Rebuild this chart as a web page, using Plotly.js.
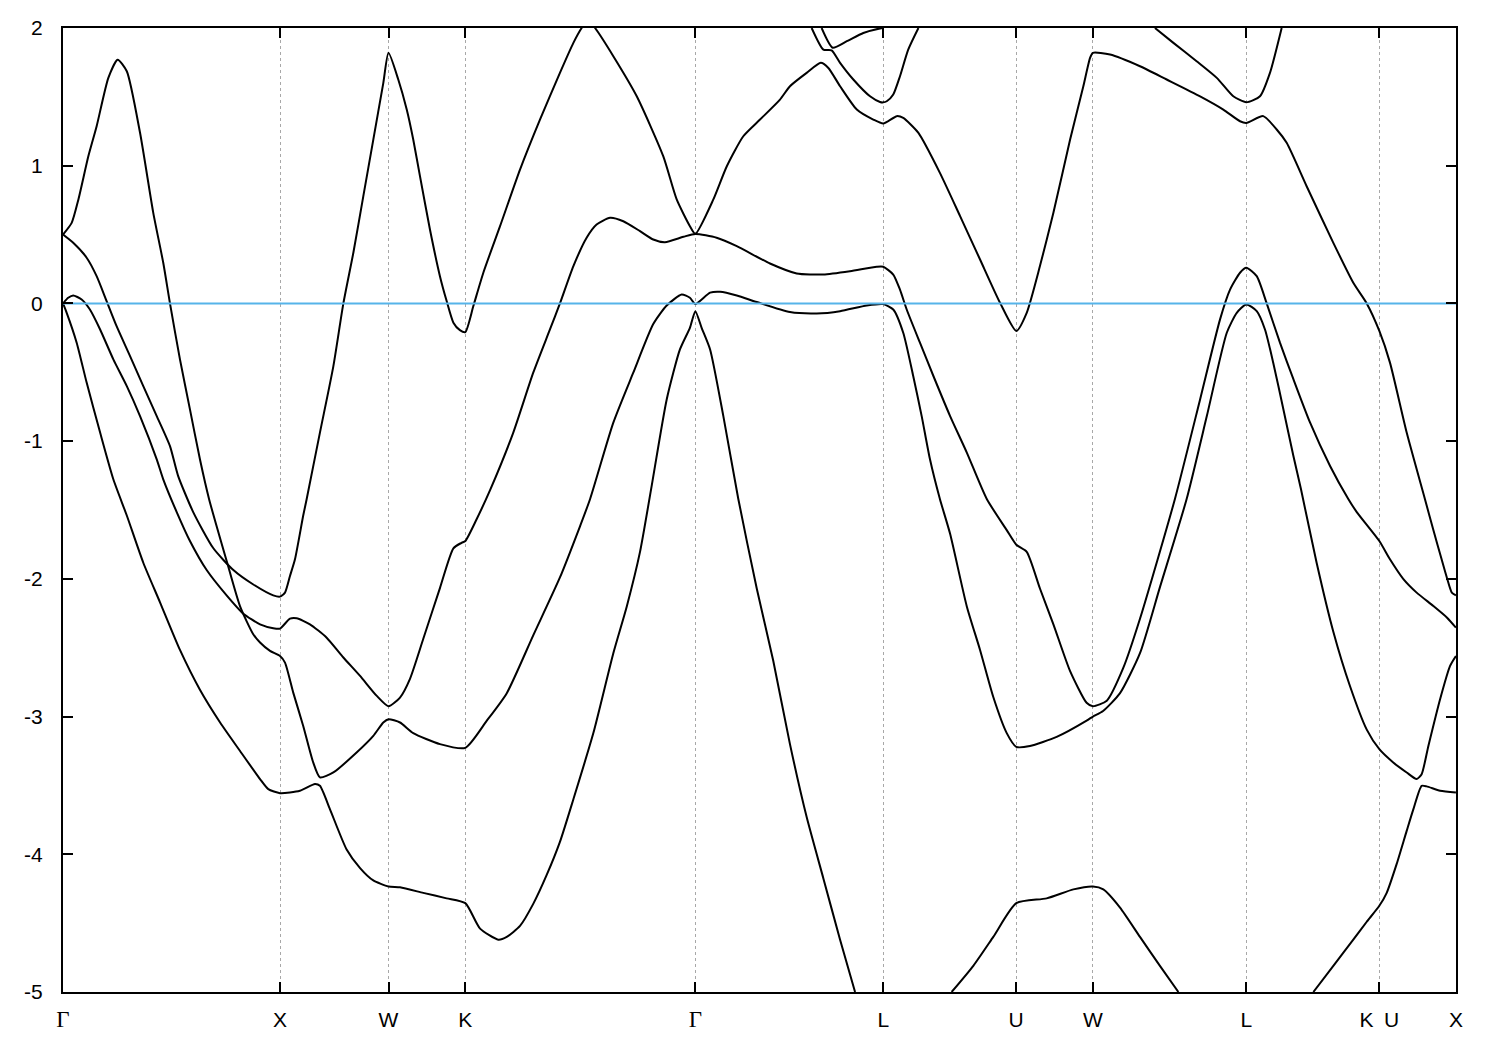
<!DOCTYPE html>
<html>
<head>
<meta charset="utf-8">
<script src="https://cdn.plot.ly/plotly-3.0.1.min.js"></script>
<style>html,body{margin:0;padding:0;background:#fff;}#chart{width:1500px;height:1050px;}</style>
</head>
<body>
<div id="chart"></div>
<script>
// High-symmetry points along the k-path
const kTicks = [0, 1, 1.5, 1.8536, 2.9142, 3.7802, 4.3926, 4.7462, 5.4533, 6.0657, 6.4193];
const kLabels = ['<span style="font-family:Liberation Serif;font-size:23px">Γ</span>', 'X', 'W', 'K',
  '<span style="font-family:Liberation Serif;font-size:23px">Γ</span>', 'L', 'U', 'W', 'L', 'K\u2002U', 'X'];
// Energy axis ticks
const eTicks = [-5, -4, -3, -2, -1, 0, 1, 2];
const eLabels = ['-5', '-4', '-3', '-2', '-1', '0', '1', '2'];

// Band A
const kA = [0, 0.040, 0.071, 0.117, 0.155, 0.209, 0.252, 0.294, 0.355, 0.416,
  0.462, 0.493, 0.539, 0.585, 0.631, 0.673, 0.756, 0.816, 0.876, 0.908,
  0.954, 1.0, 1.023, 1.061, 1.107, 1.153, 1.184, 1.246, 1.353, 1.430,
  1.476, 1.5, 1.553, 1.614, 1.737, 1.854, 1.953, 2.045, 2.167, 2.290,
  2.382, 2.429, 2.536, 2.628, 2.720, 2.782, 2.851, 2.889, 2.914, 2.982,
  3.028, 3.105, 3.197, 3.350, 3.473, 3.581, 3.704, 3.780, 3.826, 3.872,
  3.918, 3.957, 3.995, 4.041, 4.088, 4.165, 4.226, 4.287, 4.349, 4.393,
  4.456, 4.579, 4.717, 4.746, 4.793, 4.871, 4.963, 5.055, 5.178, 5.271,
  5.363, 5.409, 5.453, 5.501, 5.539, 5.577, 5.624, 5.670, 5.705, 5.777,
  5.854, 5.931, 6.008, 6.066, 6.130, 6.192, 6.238, 6.261, 6.292, 6.346,
  6.392, 6.419];
const eA = [0.50, 0.585, 0.755, 1.07, 1.287, 1.638, 1.77, 1.686, 1.239, 0.658,
  0.295, 0.0, -0.406, -0.769, -1.132, -1.42, -1.88, -2.2, -2.40, -2.462,
  -2.523, -2.56, -2.608, -2.826, -3.068, -3.333, -3.442, -3.406, -3.261, -3.14,
  -3.043, -3.019, -3.043, -3.12, -3.2, -3.227, -3.03, -2.83, -2.41, -1.99,
  -1.62, -1.42, -0.866, -0.503, -0.15, -0.015, 0.065, 0.041, -0.005, 0.078,
  0.085, 0.058, 0.01, -0.063, -0.073, -0.056, -0.015, -0.005, -0.044, -0.213,
  -0.527, -0.818, -1.13, -1.42, -1.673, -2.2, -2.516, -2.858, -3.12, -3.22,
  -3.214, -3.148, -3.03, -3.0, -2.96, -2.83, -2.54, -2.06, -1.42, -0.818,
  -0.213, -0.068, -0.007, -0.056, -0.189, -0.43, -0.77, -1.108, -1.35, -1.883,
  -2.384, -2.78, -3.095, -3.237, -3.333, -3.406, -3.454, -3.418, -3.213, -2.874,
  -2.632, -2.56];

// Band B
const kB = [0, 0.047, 0.109, 0.155, 0.201, 0.247, 0.309, 0.370, 0.432, 0.493,
  0.530, 0.600, 0.693, 0.785, 0.877, 0.969, 1.0, 1.023, 1.046, 1.069,
  1.107, 1.123, 1.184, 1.246, 1.292, 1.338, 1.384, 1.430, 1.476, 1.5,
  1.545, 1.584, 1.614, 1.645, 1.691, 1.737, 1.768, 1.799, 1.829, 1.854,
  1.891, 1.937, 2.014, 2.106, 2.198, 2.290, 2.352, 2.390, 2.419, 2.452,
  2.536, 2.644, 2.766, 2.828, 2.889, 2.914, 2.997, 3.059, 3.135, 3.212,
  3.304, 3.350, 3.427, 3.492, 3.527, 3.581, 3.658, 3.734, 3.780, 3.842,
  3.872, 3.942, 4.041, 4.134, 4.226, 4.318, 4.393, 4.441, 4.502, 4.564,
  4.641, 4.702, 4.733, 4.746, 4.825, 4.963, 5.086, 5.240, 5.347, 5.424,
  5.453, 5.531, 5.593, 5.639, 5.731, 5.854, 5.946, 6.008, 6.066, 6.115,
  6.192, 6.276, 6.315, 6.353, 6.377, 6.400, 6.419];
const eB = [0.5, 0.44, 0.332, 0.198, 0.017, -0.165, -0.382, -0.6, -0.818, -1.036,
  -1.25, -1.515, -1.778, -1.936, -2.041, -2.12, -2.129, -2.1, -1.979, -1.858,
  -1.54, -1.42, -0.938, -0.455, 0, 0.368, 0.779, 1.19, 1.6, 1.82,
  1.626, 1.408, 1.19, 0.924, 0.537, 0.198, 0.017, -0.14, -0.194, -0.208,
  -0.019, 0.223, 0.561, 0.972, 1.335, 1.674, 1.892, 2.0, 2.06, 2.0,
  1.795, 1.504, 1.069, 0.755, 0.561, 0.505, 0.755, 0.996, 1.214, 1.335,
  1.48, 1.577, 1.674, 1.747, 1.71, 1.577, 1.408, 1.335, 1.306, 1.36,
  1.347, 1.238, 0.948, 0.634, 0.319, 0.005, -0.2, -0.068, 0.271, 0.658,
  1.19, 1.577, 1.783, 1.82, 1.807, 1.722, 1.626, 1.504, 1.408, 1.323,
  1.311, 1.36, 1.263, 1.166, 0.851, 0.44, 0.15, 0, -0.2, -0.43,
  -0.938, -1.42, -1.646, -1.858, -1.99, -2.1, -2.12];

// Band C
const kC = [0, 0.024, 0.047, 0.086, 0.124, 0.171, 0.232, 0.294, 0.355, 0.432,
  0.462, 0.524, 0.585, 0.662, 0.754, 0.831, 0.908, 0.969, 1.0, 1.046,
  1.077, 1.138, 1.215, 1.292, 1.369, 1.446, 1.5, 1.553, 1.599, 1.660,
  1.737, 1.799, 1.837, 1.854, 1.906, 1.968, 2.075, 2.167, 2.244, 2.290,
  2.352, 2.413, 2.459, 2.521, 2.582, 2.659, 2.720, 2.774, 2.859, 2.914,
  3.012, 3.105, 3.258, 3.381, 3.504, 3.627, 3.750, 3.780, 3.826, 3.857,
  3.888, 3.949, 4.011, 4.088, 4.165, 4.257, 4.349, 4.393, 4.441, 4.502,
  4.564, 4.641, 4.717, 4.746, 4.810, 4.886, 4.963, 5.124, 5.240, 5.332,
  5.378, 5.424, 5.453, 5.501, 5.547, 5.608, 5.670, 5.747, 5.839, 5.923,
  5.962, 6.066, 6.115, 6.176, 6.238, 6.315, 6.377, 6.419];
const eC = [0, 0.041, 0.058, 0.029, -0.044, -0.189, -0.406, -0.6, -0.818, -1.132,
  -1.277, -1.515, -1.725, -1.936, -2.12, -2.253, -2.33, -2.358, -2.361, -2.289,
  -2.286, -2.33, -2.427, -2.571, -2.705, -2.85, -2.925, -2.862, -2.726, -2.437,
  -2.067, -1.778, -1.738, -1.725, -1.567, -1.356, -0.938, -0.503, -0.189, 0,
  0.271, 0.477, 0.573, 0.622, 0.597, 0.525, 0.464, 0.445, 0.484, 0.505,
  0.477, 0.416, 0.29, 0.218, 0.21, 0.234, 0.266, 0.266, 0.21, 0.1,
  -0.044, -0.285, -0.527, -0.818, -1.083, -1.42, -1.646, -1.752, -1.804, -2.07,
  -2.33, -2.67, -2.9, -2.925, -2.885, -2.647, -2.29, -1.42, -0.697, -0.116,
  0.10, 0.223, 0.259, 0.198, 0, -0.285, -0.55, -0.866, -1.18, -1.42,
  -1.515, -1.725, -1.858, -2.0, -2.1, -2.197, -2.28, -2.354];

// Band D (null = leaves the window below -5)
const kD = [0, 0.017, 0.063, 0.109, 0.171, 0.232, 0.294, 0.370, 0.447, 0.539,
  0.631, 0.724, 0.816, 0.908, 0.946, 1.0, 1.092, 1.161, 1.184, 1.230,
  1.307, 1.369, 1.430, 1.5, 1.553, 1.660, 1.768, 1.854, 1.922, 2.006,
  2.045, 2.106, 2.167, 2.229, 2.290, 2.352, 2.444, 2.536, 2.598, 2.659,
  2.710, 2.782, 2.843, 2.889, 2.914, 2.943, 2.982, 3.043, 3.112, 3.197,
  3.273, 3.350, 3.427, 3.504, 3.581, 3.650, null, 4.095, 4.195, 4.287,
  4.393, 4.533, 4.656, 4.746, 4.794, 4.871, 4.963, 5.055, 5.140, null,
  5.762, 5.854, 5.946, 6.008, 6.066, 6.100, 6.146, 6.192, 6.223, 6.261,
  6.284, 6.346, 6.419];
const eD = [0, -0.068, -0.285, -0.575, -0.938, -1.277, -1.54, -1.883, -2.17, -2.516,
  -2.805, -3.043, -3.25, -3.454, -3.527, -3.556, -3.539, -3.49, -3.503, -3.672,
  -3.965, -4.1, -4.19, -4.234, -4.24, -4.28, -4.32, -4.355, -4.54, -4.62,
  -4.6, -4.52, -4.36, -4.15, -3.91, -3.6, -3.12, -2.54, -2.2, -1.804,
  -1.35, -0.697, -0.334, -0.177, -0.056, -0.177, -0.334, -0.818, -1.42, -2.07,
  -2.595, -3.2, -3.73, -4.175, -4.62, -5.0, null, -5.0, -4.81, -4.6,
  -4.355, -4.32, -4.255, -4.234, -4.255, -4.387, -4.6, -4.81, -5.0, null,
  -5.0, -4.81, -4.62, -4.49, -4.374, -4.28, -4.07, -3.83, -3.672, -3.503,
  -3.507, -3.539, -3.551];

// Upper bands near L
const kE = [3.450, 3.504, 3.542, 3.581, 3.642, 3.719, 3.765, 3.780, 3.796, 3.826, 3.857, 3.895, 3.942];
const eE = [2.0, 1.843, 1.838, 1.747, 1.626, 1.504, 1.463, 1.460, 1.468, 1.517, 1.65, 1.843, 2.0];
const kF = [3.496, 3.547, 3.612, 3.688, 3.765, 3.780];
const eF = [2.0, 1.857, 1.904, 1.964, 1.997, 2.0];
const kG = [5.032, 5.117, 5.224, 5.317, 5.393, 5.453, 5.516, 5.562, 5.616];
const eG = [2.0, 1.892, 1.759, 1.638, 1.504, 1.461, 1.504, 1.674, 2.0];

// Fermi level
const kFermi = [0, 6.4193];
const eFermi = [0, 0];

const bands = [[kA, eA], [kB, eB], [kC, eC], [kD, eD], [kE, eE], [kF, eF], [kG, eG]];
const traces = bands.map(b => ({
  x: b[0], y: b[1], type: 'scatter', mode: 'lines',
  line: {color: '#000000', width: 2, shape: 'spline', smoothing: 0.6},
  hoverinfo: 'skip', connectgaps: false, showlegend: false
}));
traces.push({x: kFermi, y: eFermi, type: 'scatter', mode: 'lines',
  line: {color: '#56b4e9', width: 2}, hoverinfo: 'skip', showlegend: false});

const layout = {
  width: 1500, height: 1050,
  margin: {l: 63, r: 44, t: 28, b: 58},
  paper_bgcolor: '#ffffff', plot_bgcolor: '#ffffff',
  font: {family: 'Liberation Sans, Arial, sans-serif', size: 20, color: '#000000'},
  showlegend: false,
  xaxis: {
    range: [0, 6.4193], tickmode: 'array', tickvals: kTicks, ticktext: kLabels,
    ticks: 'inside', ticklen: 10, tickwidth: 2, tickcolor: '#000',
    showline: true, linecolor: '#000', linewidth: 2, mirror: 'ticks',
    showgrid: true, gridcolor: '#a8a8a8', gridwidth: 1, griddash: 'dot',
    zeroline: false, ticklabelstandoff: 8,
    tickfont: {family: 'Liberation Sans, Arial, sans-serif', size: 21, color: '#000'}
  },
  yaxis: {
    range: [-5, 2], tickmode: 'array', tickvals: eTicks, ticktext: eLabels,
    ticks: 'inside', ticklen: 10, tickwidth: 2, tickcolor: '#000',
    showline: true, linecolor: '#000', linewidth: 2, mirror: 'ticks',
    showgrid: false, zeroline: false, ticklabelstandoff: 14,
    tickfont: {family: 'Liberation Sans, Arial, sans-serif', size: 21, color: '#000'}
  }
};

Plotly.newPlot('chart', traces, layout, {staticPlot: true, displayModeBar: false});
</script>
</body>
</html>
